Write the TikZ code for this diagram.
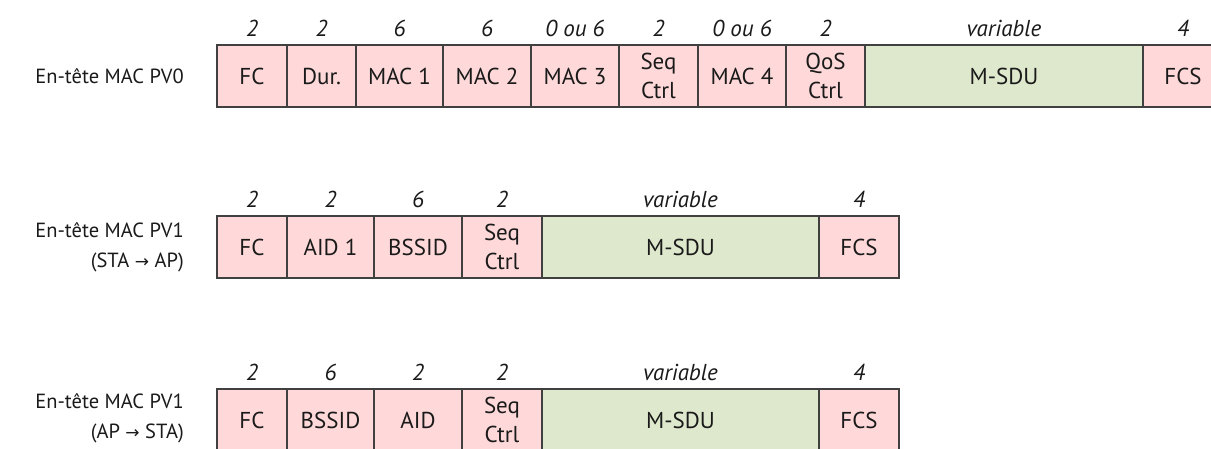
\documentclass[tikz,border=0pt]{standalone}
\usepackage{fontspec}
\setmainfont{PT Sans}
\newfontfamily\arrfont{DejaVu Sans}
\definecolor{cpink}{HTML}{FFD9D9}
\definecolor{cgreen}{HTML}{DEE8CC}
\definecolor{cline}{HTML}{404040}
\definecolor{ctext}{HTML}{1A1A1A}
\newcommand\rarr{{\arrfont\fontsize{17}{17}\selectfont →}}
\tikzset{
  cellbox/.style={draw=cline, line width=1.6pt, minimum height=62pt, inner sep=0pt,
    text=ctext, font=\fontsize{23}{29}\selectfont, align=center},
  numlbl/.style={text=ctext, font=\fontsize{23}{24}\selectfont\itshape, inner sep=0pt},
  rowlbl/.style={text=ctext, font=\fontsize{20.5}{30}\selectfont, align=right, anchor=east, inner sep=0pt}
}
\newcommand\mcell[7]{%
  \node[cellbox, fill=#5, minimum width={#3-#2}] (#1) at ({(#2+#3)/2},{#4+31}) {#6};
  \node[numlbl] (#1n) at ({(#2+#3)/2},{#4-17}) {#7};
}
\begin{document}
\begin{tikzpicture}[x=1pt,y=-1pt]
\useasboundingbox (0,0) rectangle (1211,448);
\clip (0,0) rectangle (1211,448);
% row 1
\node[rowlbl] (h1) at (184,76) {En-tête MAC PV0};
\mcell{a1}{217}{287}{45}{cpink}{FC}{2}
\mcell{a2}{287}{356}{45}{cpink}{Dur.}{2}
\mcell{a3}{356}{443}{45}{cpink}{MAC 1}{6}
\mcell{a4}{443}{531}{45}{cpink}{MAC 2}{6}
\mcell{a5}{531}{619}{45}{cpink}{MAC 3}{0 ou 6}
\mcell{a6}{619}{698}{45}{cpink}{Seq\\Ctrl}{2}
\mcell{a7}{698}{786}{45}{cpink}{MAC 4}{0 ou 6}
\mcell{a8}{786}{865}{45}{cpink}{QoS\\Ctrl}{2}
\mcell{a9}{865}{1143}{45}{cgreen}{M-SDU}{variable}
\mcell{a10}{1143}{1223}{45}{cpink}{FCS}{4}
% row 2
\node[rowlbl] (h2) at (184,247) {En-tête MAC PV1\\(STA \rarr{} AP)};
\mcell{b1}{217}{287}{216}{cpink}{FC}{2}
\mcell{b2}{287}{374}{216}{cpink}{AID 1}{2}
\mcell{b3}{374}{462}{216}{cpink}{BSSID}{6}
\mcell{b4}{462}{542}{216}{cpink}{Seq\\Ctrl}{2}
\mcell{b5}{542}{819}{216}{cgreen}{M-SDU}{variable}
\mcell{b6}{819}{899}{216}{cpink}{FCS}{4}
% row 3
\node[rowlbl] (h3) at (184,418) {En-tête MAC PV1\\(AP \rarr{} STA)};
\mcell{c1}{217}{287}{389}{cpink}{FC}{2}
\mcell{c2}{287}{374}{389}{cpink}{BSSID}{6}
\mcell{c3}{374}{462}{389}{cpink}{AID}{2}
\mcell{c4}{462}{542}{389}{cpink}{Seq\\Ctrl}{2}
\mcell{c5}{542}{819}{389}{cgreen}{M-SDU}{variable}
\mcell{c6}{819}{899}{389}{cpink}{FCS}{4}
\end{tikzpicture}
\end{document}
